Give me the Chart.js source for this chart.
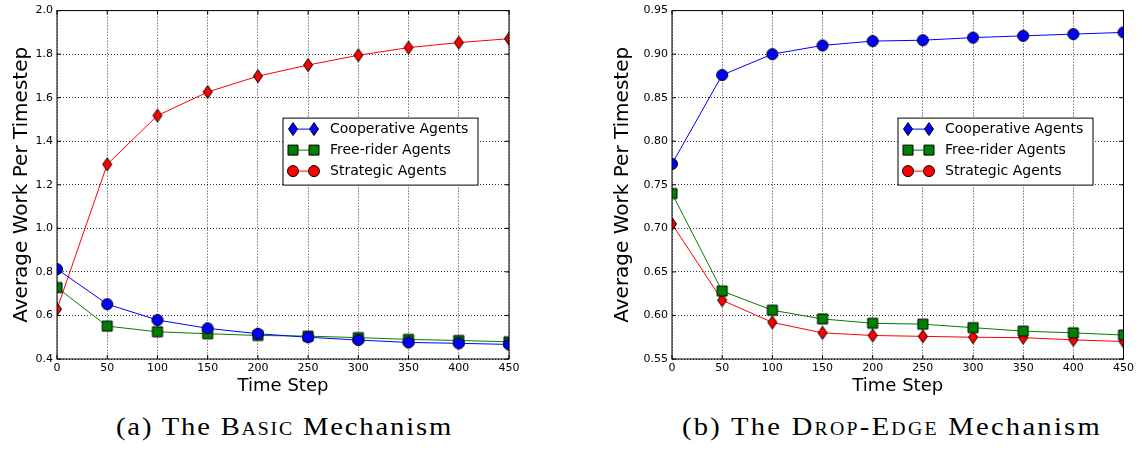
<!DOCTYPE html>
<html>
<head>
<meta charset="utf-8">
<script src="https://cdn.jsdelivr.net/npm/chart.js@4.4.0/dist/chart.umd.min.js"></script>
<style>
  body { margin: 0; background: #fff; width: 1137px; height: 449px; position: relative; overflow: hidden; }
  canvas { position: absolute; top: 0; }
  #cBasic { left: 0; }
  #cDrop { left: 600px; }
  .cap { position: absolute; top: 415px; font-family: 'Liberation Serif', 'DejaVu Serif', serif; font-size: 26px;
         line-height: 24px; color: #000; white-space: nowrap; transform-origin: 0 0; }
  .sc { font-variant: small-caps; }
</style>
</head>
<body>
<canvas id="cBasic" width="530" height="400"></canvas>
<canvas id="cDrop" width="537" height="400"></canvas>
<div class="cap" id="capA">(a) The <span class="sc">Basic</span> Mechanism</div>
<div class="cap" id="capB">(b) The <span class="sc">Drop-Edge</span> Mechanism</div>
<script>
// ---- datos ----
const steps = [0, 50, 100, 150, 200, 250, 300, 350, 400, 450];
const seriesNames = ['Cooperative Agents', 'Free-rider Agents', 'Strategic Agents'];
const seriesColors = ['#0000ff', '#008000', '#ff0000'];
const plotMarkers = ['circle', 'square', 'diamond'];
const legendMarkers = ['diamond', 'square', 'circle'];

// (a) Basic
const basicCoop  = [0.813, 0.652, 0.579, 0.541, 0.516, 0.500, 0.487, 0.476, 0.472, 0.467];
const basicFree  = [0.728, 0.551, 0.525, 0.516, 0.508, 0.505, 0.498, 0.490, 0.485, 0.479];
const basicStrat = [0.629, 1.294, 1.518, 1.626, 1.699, 1.750, 1.795, 1.830, 1.853, 1.871];
const basicYTicks = [0.4, 0.6, 0.8, 1.0, 1.2, 1.4, 1.6, 1.8, 2.0];
const basicYLabels = ['0.4', '0.6', '0.8', '1.0', '1.2', '1.4', '1.6', '1.8', '2.0'];

// (b) Drop-Edge
const dropCoop  = [0.774, 0.876, 0.900, 0.910, 0.915, 0.916, 0.919, 0.921, 0.923, 0.925];
const dropFree  = [0.740, 0.628, 0.606, 0.596, 0.591, 0.590, 0.586, 0.582, 0.580, 0.5775];
const dropStrat = [0.705, 0.6175, 0.592, 0.580, 0.577, 0.576, 0.575, 0.5745, 0.572, 0.570];
const dropYTicks = [0.55, 0.60, 0.65, 0.70, 0.75, 0.80, 0.85, 0.90, 0.95];
const dropYLabels = ['0.55', '0.60', '0.65', '0.70', '0.75', '0.80', '0.85', '0.90', '0.95'];

const xTicks = steps;
const xLabels = steps.map(String);

const FONT = "'DejaVu Sans', sans-serif";

// pie de figura: un poco de estirado + espaciado para igualar el ancho del original
function fitCaption(id, left, width) {
  const el = document.getElementById(id);
  const w = el.getBoundingClientRect().width;
  const n = el.textContent.length;
  const s = Math.min(1.1, width / w);
  el.style.letterSpacing = ((width / s - w) / n) + 'px';
  el.style.transform = `scaleX(${s})`;
  el.style.left = left + 'px';
}
fitCaption('capA', 116, 337);
fitCaption('capB', 682, 420);

// dibuja un marcador estilo matplotlib
function drawMarker(ctx, shape, color, x, y) {
  ctx.save();
  ctx.fillStyle = color;
  ctx.strokeStyle = '#000';
  ctx.lineWidth = 1;
  ctx.beginPath();
  if (shape === 'circle') {
    ctx.arc(x, y, 5.5, 0, Math.PI * 2);
  } else if (shape === 'square') {
    ctx.rect(x - 5, y - 5, 10, 10);
  } else {
    ctx.moveTo(x, y - 6.5); ctx.lineTo(x + 4.5, y); ctx.lineTo(x, y + 6.5); ctx.lineTo(x - 4.5, y); ctx.closePath();
  }
  ctx.fill();
  ctx.stroke();
  ctx.restore();
}

function markerImage(shape, color) {
  const c = document.createElement('canvas');
  c.width = 16; c.height = 16;
  drawMarker(c.getContext('2d'), shape, color, 8, 8);
  return c;
}

// marco, ticks hacia dentro y leyenda dentro del área
const framePlugin = {
  id: 'mplFrame',
  afterDraw(chart, args, opts) {
    const { ctx, chartArea: a, scales } = chart;
    ctx.save();
    ctx.strokeStyle = '#000';
    ctx.lineWidth = 1;
    ctx.strokeRect(a.left, a.top, a.right - a.left, a.bottom - a.top);
    ctx.beginPath();
    scales.x.ticks.forEach(t => {
      const px = scales.x.getPixelForValue(t.value);
      ctx.moveTo(px, a.bottom); ctx.lineTo(px, a.bottom - 4);
      ctx.moveTo(px, a.top); ctx.lineTo(px, a.top + 4);
    });
    scales.y.ticks.forEach(t => {
      const py = scales.y.getPixelForValue(t.value);
      ctx.moveTo(a.left, py); ctx.lineTo(a.left + 4, py);
      ctx.moveTo(a.right, py); ctx.lineTo(a.right - 4, py);
    });
    ctx.stroke();

    // leyenda
    const bx = a.left + opts.x, by = a.top + opts.y;
    ctx.fillStyle = '#fff';
    ctx.fillRect(bx, by, opts.w, opts.h);
    ctx.strokeStyle = '#000';
    ctx.strokeRect(bx, by, opts.w, opts.h);
    ctx.font = '14px ' + FONT;
    ctx.textBaseline = 'middle';
    seriesNames.forEach((name, i) => {
      const ry = by + 11 + i * 21;
      ctx.strokeStyle = seriesColors[i];
      ctx.beginPath();
      ctx.moveTo(bx + 10, ry); ctx.lineTo(bx + 31, ry);
      ctx.stroke();
      drawMarker(ctx, legendMarkers[i], seriesColors[i], bx + 10, ry);
      drawMarker(ctx, legendMarkers[i], seriesColors[i], bx + 31, ry);
      ctx.fillStyle = '#000';
      ctx.fillText(name, bx + 47, ry);
    });
    ctx.restore();
  }
};

function makeChart(id, series, yMin, yMax, yTicks, yLabels, yWidth, padRight, yTitlePad) {
  const datasets = series.map((vals, i) => ({
    label: seriesNames[i],
    data: steps.map((s, j) => ({ x: s, y: vals[j] })),
    borderColor: seriesColors[i],
    borderWidth: 1,
    pointStyle: markerImage(plotMarkers[i], seriesColors[i]),
    pointRadius: 6,
    clip: 0,
    tension: 0
  }));
  const gridOpts = { color: 'rgba(0,0,0,0.8)', drawTicks: false, lineWidth: 1 };
  return new Chart(document.getElementById(id), {
    type: 'line',
    data: { datasets },
    options: {
      responsive: false,
      animation: false,
      events: [],
      layout: { padding: { left: 0, right: padRight, top: 9.5, bottom: 0 } },
      plugins: {
        legend: { display: false },
        tooltip: { enabled: false },
        mplFrame: { x: 226, y: 107.5, w: 195, h: 67 }
      },
      scales: {
        x: {
          type: 'linear', min: 0, max: 450,
          afterBuildTicks: s => { s.ticks = xTicks.map(v => ({ value: v })); },
          afterFit: s => { s.height = 41; },
          grid: gridOpts,
          border: { display: false, dash: [1, 2] },
          ticks: { color: '#000', font: { family: FONT, size: 11 }, padding: 3, maxRotation: 0,
                   callback: (v, i) => xLabels[i] },
          title: { display: true, text: 'Time Step', color: '#000', font: { family: FONT, size: 18 },
                   padding: { top: 0, bottom: 3 } }
        },
        y: {
          min: yMin, max: yMax,
          afterBuildTicks: s => { s.ticks = yTicks.map(v => ({ value: v })); },
          afterFit: s => { s.width = yWidth; },
          grid: gridOpts,
          border: { display: false, dash: [1, 2] },
          ticks: { color: '#000', font: { family: FONT, size: 11 }, padding: 4,
                   callback: (v, i) => yLabels[i] },
          title: { display: true, text: 'Average Work Per Timestep', color: '#000', font: { family: FONT, size: 20 },
                   padding: { top: yTitlePad, bottom: 0 } }
        }
      }
    },
    plugins: [framePlugin]
  });
}

makeChart('cBasic', [basicCoop, basicFree, basicStrat], 0.4, 2.0, basicYTicks, basicYLabels, 57, 21, 10);
makeChart('cDrop', [dropCoop, dropFree, dropStrat], 0.55, 0.95, dropYTicks, dropYLabels, 72, 13, 11);
</script>
</body>
</html>
